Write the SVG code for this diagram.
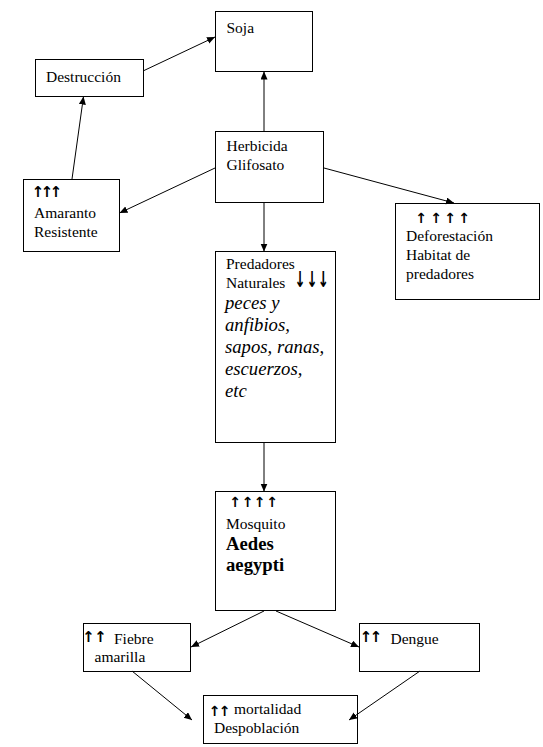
<svg xmlns="http://www.w3.org/2000/svg" width="543" height="747" viewBox="0 0 543 747">
<style>
rect.box{fill:#fff;stroke:#000;stroke-width:1}
.t{font-family:"Liberation Serif","Times New Roman",serif;font-size:15.5px;fill:#000}
.it{font-family:"Liberation Serif","Times New Roman",serif;font-size:18.7px;font-style:italic;fill:#000}
.bd{font-family:"Liberation Serif","Times New Roman",serif;font-size:18.7px;font-weight:bold;fill:#000}
.ar{font-family:"DejaVu Sans",sans-serif;font-size:15px;font-weight:bold;fill:#000;text-anchor:middle}
.ars{font-family:"DejaVu Sans",sans-serif;font-size:14px;font-weight:bold;fill:#000;text-anchor:middle}
.arl{font-family:"DejaVu Sans",sans-serif;font-size:22px;font-weight:bold;fill:#000;text-anchor:middle}
#connectors line{stroke:#000;stroke-width:1;fill:none;marker-end:url(#ah)}
</style>
<defs>
<marker id="ah" markerUnits="userSpaceOnUse" markerWidth="9" markerHeight="8" refX="8" refY="3.5" orient="auto">
<path d="M0,0 L8,3.5 L0,7 z" fill="#000"/>
</marker>
</defs>
<rect width="543" height="747" fill="#fff"/>
<g id="soja">
<rect class="box" x="215.5" y="11.5" width="97" height="60"/>
<text class="t" x="226.5" y="32.5">Soja</text>
</g>
<g id="destruccion">
<rect class="box" x="35.5" y="59.5" width="108" height="37"/>
<text class="t" x="46" y="81.5">Destrucción</text>
</g>
<g id="herbicida">
<rect class="box" x="215.5" y="131.5" width="108" height="71"/>
<text class="t" x="226.5" y="150.5">Herbicida</text>
<text class="t" x="226.5" y="170">Glifosato</text>
</g>
<g id="amaranto">
<rect class="box" x="23.5" y="179.5" width="96" height="72"/>
<text class="ar" x="38 47 56" y="197">↑↑↑</text>
<text class="t" x="34" y="218">Amaranto</text>
<text class="t" x="34" y="237">Resistente</text>
</g>
<g id="deforestacion">
<rect class="box" x="395.5" y="203.5" width="144" height="96"/>
<text class="ars" x="421 436 450 464" y="223">↑↑↑↑</text>
<text class="t" x="406" y="240.5">Deforestación</text>
<text class="t" x="406" y="260">Habitat de</text>
<text class="t" x="406" y="278.5">predadores</text>
</g>
<g id="predadores">
<rect class="box" x="215.5" y="251.5" width="120" height="191"/>
<text class="t" x="226" y="269">Predadores</text>
<text class="t" x="226" y="288">Naturales</text>
<text class="arl" transform="translate(300,287) scale(0.6,1)" x="0 20 39" y="0">↓↓↓</text>
<text class="it" x="225" y="309">peces y</text>
<text class="it" x="225" y="331">anfibios,</text>
<text class="it" x="225" y="353">sapos, ranas,</text>
<text class="it" x="225" y="375">escuerzos,</text>
<text class="it" x="225" y="397">etc</text>
</g>
<g id="mosquito">
<rect class="box" x="215.5" y="491.5" width="120" height="119"/>
<text class="ars" x="235 247.5 259.5 272" y="507">↑↑↑↑</text>
<text class="t" x="226" y="528.5">Mosquito</text>
<text class="bd" x="226" y="550">Aedes</text>
<text class="bd" x="226" y="571">aegypti</text>
</g>
<g id="fiebre">
<rect class="box" x="83.5" y="623.5" width="107" height="48"/>
<text class="ar" x="88.5 100.5" y="642">↑↑</text>
<text class="t" x="114" y="643.5">Fiebre</text>
<text class="t" x="94.5" y="662">amarilla</text>
</g>
<g id="dengue">
<rect class="box" x="359.5" y="623.5" width="120" height="48"/>
<text class="ar" x="366 376" y="642">↑↑</text>
<text class="t" x="390.5" y="643.5">Dengue</text>
</g>
<g id="mortalidad">
<rect class="box" x="203.5" y="695.5" width="154" height="48"/>
<text class="ar" style="font-size:14px" x="214.5 224.5" y="715.5">↑↑</text>
<text class="t" x="234" y="713.5">mortalidad</text>
<text class="t" x="214" y="732.5">Despoblación</text>
</g>
<g id="connectors">
<line x1="143" y1="71" x2="215" y2="37"/>
<line x1="264" y1="132" x2="264" y2="71.5"/>
<line x1="72" y1="179" x2="83.5" y2="96.5"/>
<line x1="215" y1="168" x2="119.5" y2="213"/>
<line x1="324" y1="168" x2="454" y2="203"/>
<line x1="264" y1="203" x2="264" y2="251.5"/>
<line x1="264" y1="443" x2="264" y2="491.5"/>
<line x1="264" y1="611" x2="191" y2="647"/>
<line x1="276" y1="611" x2="359" y2="647"/>
<line x1="132" y1="671" x2="192" y2="720"/>
<line x1="420" y1="671" x2="349" y2="720"/>
</g>
</svg>
